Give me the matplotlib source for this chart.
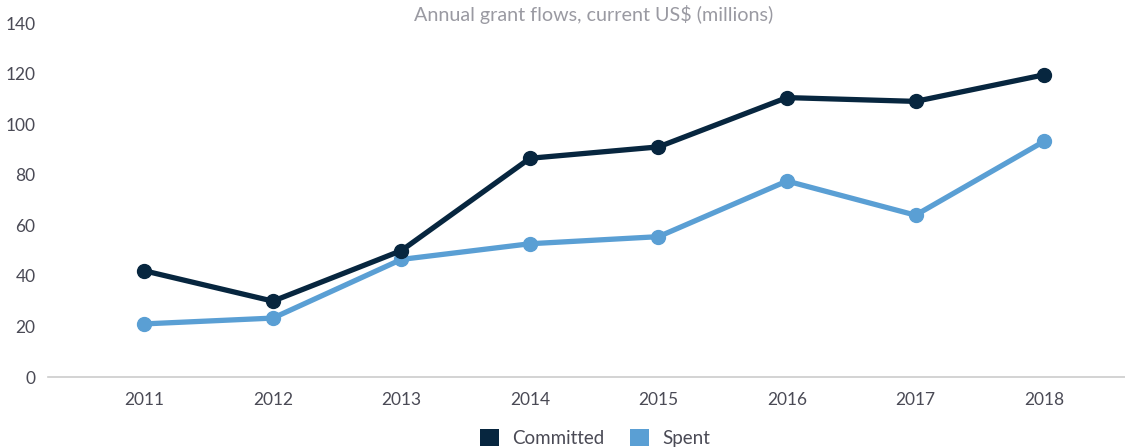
import matplotlib
matplotlib.use("Agg")
import matplotlib.pyplot as plt
from matplotlib.patches import Patch

years = [2011, 2012, 2013, 2014, 2015, 2016, 2017, 2018]
committed = [42, 30, 50, 86.5, 91, 110.5, 109, 119.5]
spent = [21, 23.3, 46.5, 52.7, 55.5, 77.5, 64, 93.2]
series_names = ["Committed", "Spent"]
title = "Annual grant flows, current US$ (millions)"
yticks = [0, 20, 40, 60, 80, 100, 120, 140]

c_committed = "#07263f"
c_spent = "#5a9fd4"
txt = "#4a4a55"

plt.rcParams['font.family'] = ['Lato', 'DejaVu Sans']

fig = plt.figure(figsize=(11.25, 4.48), dpi=100)
ax = fig.add_axes([48/1125, 1-377/448, 1-48/1125, (377-23)/448])

ax.plot(years, committed, color=c_committed, lw=3.8, marker='o', ms=10, zorder=3)
ax.plot(years, spent, color=c_spent, lw=3.8, marker='o', ms=10, zorder=2)

ax.set_xlim(2010.25, 2018.63)
ax.set_ylim(0, 140)
ax.set_yticks(yticks)
ax.set_xticks(years)
ax.set_xticklabels([str(y) for y in years])
for s in ['top', 'right', 'left']:
    ax.spines[s].set_visible(False)
ax.spines['bottom'].set_color('#cccccc')
ax.spines['bottom'].set_linewidth(1.2)
ax.tick_params(axis='both', length=0, labelsize=12.5, labelcolor=txt)
ax.tick_params(axis='y', pad=9)
ax.tick_params(axis='x', pad=11)

fig.text(594/1125, 1-14/448, title, ha='center', va='center', fontsize=14.2, color='#9a9aa2')

handles = [Patch(facecolor=c_committed, edgecolor='none'),
           Patch(facecolor=c_spent, edgecolor='none')]
leg = fig.legend(handles, series_names, loc='center', bbox_to_anchor=(595/1125, 1-438/448),
                 ncol=2, frameon=False, fontsize=13.5, handlelength=1.0, handleheight=1.0,
                 handletextpad=0.7, columnspacing=1.4)
for t in leg.get_texts():
    t.set_color(txt)

fig.savefig("out.png", dpi=100)
